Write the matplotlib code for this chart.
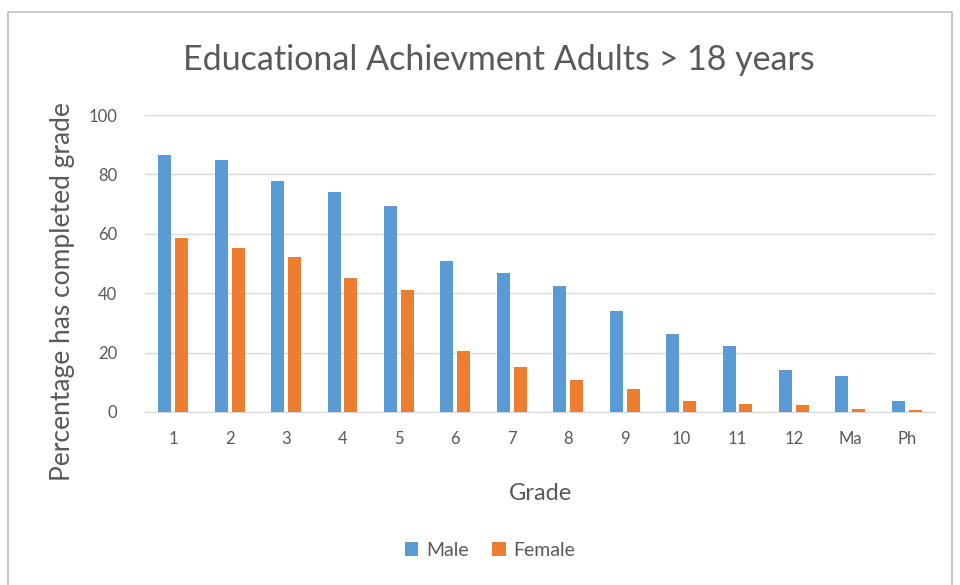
import matplotlib
matplotlib.use("Agg")
import matplotlib.pyplot as plt
import numpy as np
from matplotlib.patches import Rectangle

plt.rcParams['font.family'] = ['Lato', 'DejaVu Sans']

grades = ["1", "2", "3", "4", "5", "6", "7", "8", "9", "10", "11", "12", "Ma", "Ph"]
male = [86.7, 84.7, 77.7, 74.0, 69.3, 51.0, 46.7, 42.3, 34.0, 26.3, 22.3, 14.0, 12.0, 3.7]
female = [58.7, 55.3, 52.3, 45.0, 41.0, 20.7, 15.0, 10.8, 7.7, 3.8, 2.7, 2.2, 1.0, 0.6]
yticks = [0, 20, 40, 60, 80, 100]

blue = "#5B9BD5"
orange = "#ED7D31"
text_gray = "#595959"
grid_gray = "#D9D9D9"

fig = plt.figure(figsize=(9.6, 5.85), dpi=100)
fig.patch.set_facecolor("white")

# chart frame
fig.patches.append(Rectangle((8 / 960, -0.01), 944 / 960, 1 - 12 / 585 + 0.01,
                             transform=fig.transFigure, fill=False,
                             edgecolor="#BFBFBF", linewidth=1.2))

ax = fig.add_axes([145 / 960, (585 - 412) / 585, 790 / 960, (412 - 115) / 585])

x = np.arange(len(grades))
w = 0.23
off = 0.15
ax.bar(x - off, male, width=w, color=blue, label="Male", zorder=3)
ax.bar(x + off, female, width=w, color=orange, label="Female", zorder=3)

ax.set_xlim(-0.5, len(grades) - 0.5)
ax.set_ylim(0, 100)
ax.set_yticks(yticks)
ax.set_yticklabels([str(v) for v in yticks])
ax.set_xticks(x)
ax.set_xticklabels(grades)
ax.yaxis.grid(True, color=grid_gray, linewidth=1, zorder=0)
ax.set_axisbelow(True)
for s in ["top", "right", "left"]:
    ax.spines[s].set_visible(False)
ax.spines["bottom"].set_color(grid_gray)
ax.tick_params(axis="both", length=0, colors=text_gray, labelsize=12)
ax.tick_params(axis="y", pad=20)
ax.tick_params(axis="x", pad=14)

ax.set_xlabel("Grade", color=text_gray, fontsize=17)
ax.xaxis.set_label_coords(0.5, (412 - 483) / (412 - 115))
ax.set_ylabel("Percentage has completed grade", color=text_gray, fontsize=19)
ax.yaxis.set_label_coords((75 - 145) / 790, (412 - 292) / (412 - 115))

fig.text(499 / 960, 1 - 60 / 585, "Educational Achievment Adults > 18 years",
         ha="center", va="center", fontsize=24.5, color=text_gray)

fig.legend(loc="center", bbox_to_anchor=(490 / 960, 1 - 550 / 585), ncol=2,
           frameon=False, fontsize=14, labelcolor=text_gray,
           handlelength=0.7, handleheight=0.7, columnspacing=1.2, handletextpad=0.4)

fig.savefig("out.png", dpi=100, facecolor="white")
